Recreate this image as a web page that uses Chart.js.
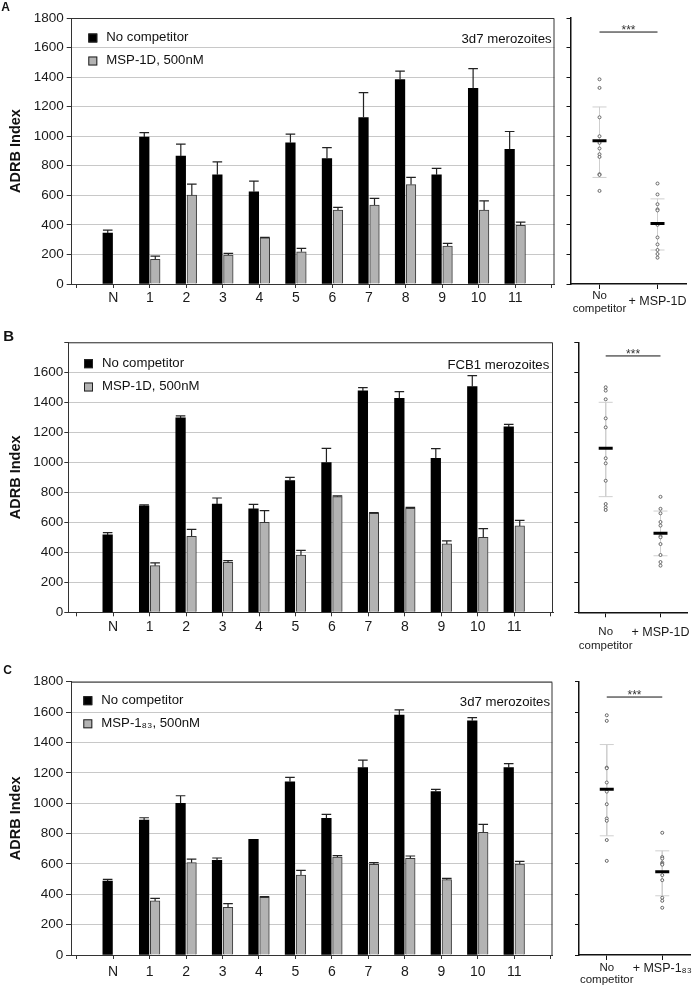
<!DOCTYPE html>
<html><head><meta charset="utf-8">
<script src="https://cdn.jsdelivr.net/npm/chart.js@4.4.1/dist/chart.umd.min.js"></script>
<style>
html,body{margin:0;padding:0;background:#fff;}
#wrap{position:relative;width:700px;height:987px;overflow:hidden;background:#fff;}
canvas{position:absolute;}
</style></head><body>
<div id="wrap">
<canvas id="barA" width="560" height="320" style="left:0px;top:0px"></canvas>
<canvas id="dotA" width="140" height="320" style="left:560px;top:0px"></canvas>
<canvas id="barB" width="560" height="336" style="left:0px;top:322px"></canvas>
<canvas id="dotB" width="140" height="336" style="left:560px;top:322px"></canvas>
<canvas id="barC" width="560" height="327" style="left:0px;top:660px"></canvas>
<canvas id="dotC" width="140" height="327" style="left:560px;top:660px"></canvas>
</div>
<script>
// ---------------- DATA ----------------
const categories = ['', 'N', '1', '2', '3', '4', '5', '6', '7', '8', '9', '10', '11', ''];
const yTicks = [0, 200, 400, 600, 800, 1000, 1200, 1400, 1600, 1800];

// Panel A (3d7 merozoites, MSP-1D)
const aNoComp    = [null, 345, 995, 865, 739, 624, 955, 849, 1126, 1383, 739, 1324, 912, null];
const aNoCompErr = [null, 20, 30, 81, 87, 72, 59, 74, 169, 58, 43, 133, 120, null];
const aComp      = [null, null, 167, 601, 196, 313, 218, 500, 534, 673, 257, 500, 397, null];
const aCompErr   = [null, null, 22, 75, 11, 2, 23, 18, 45, 48, 18, 63, 22, null];

// Panel B (FCB1 merozoites, MSP-1D)
const bNoComp    = [null, 516, 709, 1296, 722, 689, 878, 998, 1476, 1427, 1027, 1504, 1236, null];
const bNoCompErr = [null, 15, 7, 13, 40, 31, 22, 95, 22, 44, 64, 74, 17, null];
const bComp      = [null, null, 311, 507, 333, 600, 382, 771, 660, 693, 456, 500, 576, null];
const bCompErr   = [null, null, 18, 46, 11, 78, 31, 5, 4, 7, 20, 58, 37, null];

// Panel C (3d7 merozoites, MSP-1 83)
const cNoComp    = [null, 487, 889, 999, 623, 762, 1141, 900, 1234, 1580, 1076, 1543, 1234, null];
const cNoCompErr = [null, 11, 15, 50, 16, 0, 29, 26, 50, 35, 15, 20, 26, null];
const cComp      = [null, null, 356, 608, 314, 380, 527, 645, 597, 637, 496, 808, 599, null];
const cCompErr   = [null, null, 17, 24, 24, 4, 30, 9, 11, 15, 9, 52, 18, null];

// Scatter (dot) panels
const dotLabelsAB = [['No', 'competitor'], '+ MSP-1D'];
const dotLabelsC  = [['No', 'competitor'], '+ MSP-1\u2088\u2083'];

const aDotNo  = [1385, 1327, 1128, 1000, 955, 917, 878, 860, 743, 738, 630];
const aDotMsp = [680, 606, 540, 505, 498, 400, 315, 268, 230, 203, 178];
const aMean = [970, 410];  const aSdHi = [1198, 576];  const aSdLo = [721, 230];  const aSig = 1705;

const bDotNo  = [1500, 1478, 1420, 1293, 1233, 1027, 993, 877, 722, 700, 682];
const bDotMsp = [770, 690, 660, 602, 578, 507, 500, 455, 382, 335, 311];
const bMean = [1093, 527]; const bSdHi = [1400, 675]; const bSdLo = [771, 377]; const bSig = 1709;

const cDotNo  = [1579, 1542, 1234, 1230, 1136, 1076, 993, 899, 884, 757, 620];
const cDotMsp = [805, 645, 635, 608, 600, 595, 526, 493, 377, 357, 311];
const cMean = [1092, 548]; const cSdHi = [1386, 686]; const cSdLo = [785, 390]; const cSig = 1699;

// ---------------- STYLE / SETUP ----------------
const FAM = "'Liberation Sans', Arial, Helvetica, sans-serif";
Chart.defaults.font.family = FAM;
Chart.defaults.color = '#1a1a1a';
Chart.defaults.animation = false;

const errorBars = {
  id: 'errorBars',
  afterDatasetsDraw(chart) {
    const ctx = chart.ctx, ys = chart.scales.y;
    chart.data.datasets.forEach((ds, di) => {
      if (!ds.errors) return;
      const meta = chart.getDatasetMeta(di);
      meta.data.forEach((el, i) => {
        const v = ds.data[i].y, e = ds.errors[i];
        if (v == null || !e) return;
        const yT = ys.getPixelForValue(v + e);
        const hw = el.width / 2;
        ctx.save();
        ctx.strokeStyle = '#222'; ctx.lineWidth = 1.2;
        ctx.beginPath();
        ctx.moveTo(el.x, el.y); ctx.lineTo(el.x, yT);
        ctx.moveTo(el.x - hw, yT); ctx.lineTo(el.x + hw, yT);
        ctx.stroke();
        ctx.restore();
      });
    });
  }
};

const deco = {
  id: 'deco',
  afterDraw(chart, args, o) {
    if (!o || !o.letter) return;
    const ctx = chart.ctx, a = chart.chartArea;
    ctx.save();
    ctx.strokeStyle = '#333'; ctx.lineWidth = 1;
    ctx.beginPath();
    ctx.moveTo(a.left, a.top + 0.5); ctx.lineTo(a.right - 0.5, a.top + 0.5); ctx.lineTo(a.right - 0.5, a.bottom);
    ctx.stroke();
    chart.data.datasets.forEach((ds, k) => {
      const cy = a.top + o.legY + k * o.legGap;
      const sx = a.left + o.legX;
      ctx.fillStyle = ds.backgroundColor;
      ctx.fillRect(sx, cy - 4.5, 9, 9);
      ctx.strokeStyle = '#222'; ctx.lineWidth = 1;
      ctx.strokeRect(sx + 0.5, cy - 4, 8, 8);
      ctx.fillStyle = '#111';
      ctx.font = '13.2px ' + FAM;
      ctx.textAlign = 'left'; ctx.textBaseline = 'middle';
      ctx.fillText(ds.label, sx + 18, cy - 0.5);
    });
    ctx.textAlign = 'right';
    ctx.fillText(o.note, a.right - o.noteDx, a.top + o.noteDy);
    ctx.font = 'bold ' + o.letterSize + 'px ' + FAM;
    ctx.textAlign = 'center';
    ctx.fillText(o.letter, o.letterX, o.letterY);
    ctx.restore();
  }
};

const sigStars = {
  id: 'sigStars',
  afterDatasetsDraw(chart) {
    const ctx = chart.ctx;
    chart.data.datasets.forEach((ds, i) => {
      if (!ds.sig) return;
      const m = chart.getDatasetMeta(i).data;
      const x = (m[0].x + m[1].x) / 2, y = m[0].y;
      ctx.save();
      ctx.fillStyle = '#333'; ctx.font = '12px ' + FAM;
      ctx.textAlign = 'center'; ctx.textBaseline = 'alphabetic';
      ctx.fillText('***', x, y + 2);
      ctx.restore();
    });
  }
};

Chart.register(errorBars, deco, sigStars);

function xy(arr) { return arr.map((v, i) => ({ x: i, y: v })); }

function barChart(id, P, noComp, noErr, comp, compErr, compLabel) {
  new Chart(document.getElementById(id), {
    type: 'bar',
    data: {
      datasets: [
        { label: 'No competitor', data: xy(noComp), errors: noErr, backgroundColor: '#000000',
          borderWidth: 0, barThickness: 11, maxBarThickness: 9.6 },
        { label: compLabel, data: xy(comp), errors: compErr, backgroundColor: '#b3b3b3',
          borderColor: '#3a3a3a', borderWidth: 1, barThickness: 11, maxBarThickness: 9.6 }
      ]
    },
    options: {
      responsive: false, events: [],
      layout: { padding: { left: 0, top: P.padTop, right: P.padRight, bottom: 0 } },
      plugins: {
        legend: { display: false }, tooltip: { enabled: false },
        deco: { letter: P.letter, letterSize: P.letterSize, letterX: P.letterX, letterY: P.letterY,
                note: P.note, noteDx: P.noteDx, noteDy: P.noteDy, legX: P.legX, legY: P.legY, legGap: P.legGap }
      },
      scales: {
        x: {
          type: 'linear', min: P.xMin, max: P.xMax, offset: false,
          afterBuildTicks: s => { s.ticks = categories.map((_, i) => ({ value: i })); },
          afterFit: s => { s.height = P.xAxisH; },
          ticks: { autoSkip: false, maxRotation: 0, minRotation: 0, font: { size: 14 }, padding: P.xPad,
                   color: '#1a1a1a', callback: (v, i) => categories[i] },
          grid: { display: true, drawOnChartArea: false, offset: false, tickLength: 4, tickColor: '#333' },
          border: { color: '#333', width: 1 }
        },
        y: {
          min: 0, max: 1800,
          afterBuildTicks: s => { s.ticks = yTicks.map(v => ({ value: v })); },
          afterFit: s => { s.width = P.plotLeft; },
          ticks: { font: { size: 13.5 }, padding: P.yPad, color: '#1a1a1a',
                   callback: v => (P.hideTop && v === 1800) ? '' : String(v) },
          grid: { color: '#c8c8c8', tickColor: '#333', tickLength: P.yTick, lineWidth: 1 },
          border: { color: '#333', width: 1 },
          title: { display: true, text: 'ADRB Index', color: '#111',
                   font: { size: 14.5, weight: 'bold' }, padding: { top: 7, bottom: 0 } }
        }
      }
    }
  });
}

function dotChart(id, D, labels, no, msp, mean, sdHi, sdLo, sig) {
  const gray = '#cfcfcf';
  new Chart(document.getElementById(id), {
    type: 'scatter',
    data: {
      datasets: [
        { data: [{ x: 0, y: mean[0] }, { x: 1, y: mean[1] }], pointStyle: 'line', pointRadius: 7,
          pointBorderColor: '#000', pointBorderWidth: 3, showLine: false },
        { data: [{ x: 0, y: sig }, { x: 1, y: sig }], sig: true, showLine: true, borderColor: '#111',
          borderWidth: 1, pointRadius: 0 },
        { data: no.map(v => ({ x: 0, y: v })), pointStyle: 'circle', pointRadius: 1.5,
          pointBackgroundColor: '#fff', pointBorderColor: '#666', pointBorderWidth: 1 },
        { data: msp.map(v => ({ x: 1, y: v })), pointStyle: 'circle', pointRadius: 1.5,
          pointBackgroundColor: '#fff', pointBorderColor: '#666', pointBorderWidth: 1 },
        { data: [{ x: 0, y: sdHi[0] }, { x: 0, y: sdLo[0] }], showLine: true, borderColor: gray, borderWidth: 1,
          pointStyle: 'line', pointRadius: 7, pointBorderColor: gray, pointBorderWidth: 1 },
        { data: [{ x: 1, y: sdHi[1] }, { x: 1, y: sdLo[1] }], showLine: true, borderColor: gray, borderWidth: 1,
          pointStyle: 'line', pointRadius: 7, pointBorderColor: gray, pointBorderWidth: 1 }
      ]
    },
    options: {
      responsive: false, events: [],
      layout: { padding: { left: 0, top: D.padTop, right: D.padRight, bottom: 0 } },
      plugins: { legend: { display: false }, tooltip: { enabled: false } },
      scales: {
        x: {
          type: 'linear', min: -0.5, max: 1.5, offset: false,
          afterBuildTicks: s => { s.ticks = [{ value: 0 }, { value: 1 }]; },
          afterFit: s => { s.height = D.xAxisH; },
          ticks: { autoSkip: false, maxRotation: 0, minRotation: 0, padding: D.xPad, crossAlign: D.cross,
                   color: '#1a1a1a',
                   font: c => ({ size: c.index === 0 ? 11.5 : 12.5, lineHeight: D.lh }),
                   callback: (v, i) => labels[i] },
          grid: { display: true, drawOnChartArea: false, offset: false, tickLength: 5, tickColor: '#111' },
          border: { color: '#111', width: 1.5 }
        },
        y: {
          min: 0, max: 1800,
          afterBuildTicks: s => { s.ticks = yTicks.map(v => ({ value: v })); },
          afterFit: s => { s.width = D.yAxisW; },
          ticks: { display: false },
          grid: { drawOnChartArea: false, tickLength: 4, tickColor: '#111' },
          border: { color: '#111', width: 1.5 }
        }
      }
    }
  });
}

// ---------------- PANELS ----------------
barChart('barA', { letter: 'A', letterSize: 12, letterX: 5.5, letterY: 7.5, note: '3d7 merozoites',
  noteDx: 2.8, noteDy: 21, legX: 16.6, legY: 20, legGap: 23, padTop: 18, plotLeft: 71.7, padRight: 5.5,
  xAxisH: 36, xMin: -0.137, xMax: 13.077, yTick: 5, yPad: 3, xPad: 1.6, hideTop: false },
  aNoComp, aNoCompErr, aComp, aCompErr, 'MSP-1D, 500nM');

barChart('barB', { letter: 'B', letterSize: 15, letterX: 8.7, letterY: 15, note: 'FCB1 merozoites',
  noteDx: 3.7, noteDy: 22.7, legX: 15.7, legY: 21.4, legGap: 23.3, padTop: 20.3, plotLeft: 68.3, padRight: 7,
  xAxisH: 45.7, xMin: -0.23, xMax: 13.063, yTick: 4, yPad: 1, xPad: 2.3, hideTop: true },
  bNoComp, bNoCompErr, bComp, bCompErr, 'MSP-1D, 500nM');

barChart('barC', { letter: 'C', letterSize: 12, letterX: 7.5, letterY: 11, note: '3d7 merozoites',
  noteDx: 2.5, noteDy: 20.6, legX: 12.3, legY: 19, legGap: 23.1, padTop: 21.7, plotLeft: 71, padRight: 7.5,
  xAxisH: 32, xMin: -0.156, xMax: 13.05, yTick: 5, yPad: 2.7, xPad: 4.6, hideTop: false },
  cNoComp, cNoCompErr, cComp, cCompErr, 'MSP-1\u2088\u2083, 500nM');

dotChart('dotA', { padTop: 18, yAxisW: 10.5, padRight: 13.5, xAxisH: 36, xPad: 7, cross: 'center', lh: 1.15 },
  dotLabelsAB, aDotNo, aDotMsp, aMean, aSdHi, aSdLo, aSig);
dotChart('dotB', { padTop: 20.3, yAxisW: 18.3, padRight: 4.1, xAxisH: 45.7, xPad: 8, cross: 'near', lh: 1.2 },
  dotLabelsAB, bDotNo, bDotMsp, bMean, bSdHi, bSdLo, bSig);
dotChart('dotC', { padTop: 21.7, yAxisW: 19, padRight: 2.5, xAxisH: 32, xPad: 1.7, cross: 'near', lh: 1.05 },
  dotLabelsC, cDotNo, cDotMsp, cMean, cSdHi, cSdLo, cSig);
</script>
</body></html>
